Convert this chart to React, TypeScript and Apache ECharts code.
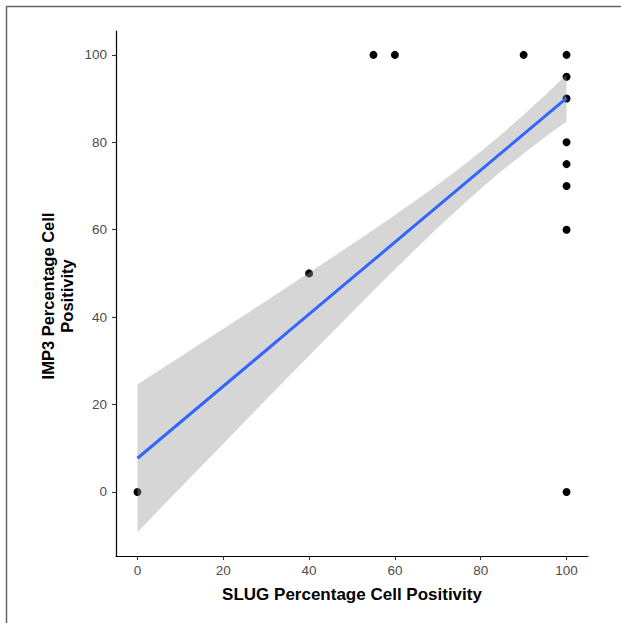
import React, { useEffect, useRef } from "react";
import * as echarts from "echarts";

const pointX = [0, 40, 55, 60, 90, 100, 100, 100, 100, 100, 100, 100, 100];
const pointY = [0, 50, 100, 100, 100, 100, 95, 90, 80, 75, 70, 60, 0];

const bandX = [0, 5, 10, 15, 20, 25, 30, 35, 40, 45, 50, 55, 60, 65, 70, 75, 80, 85, 90, 95, 100];
const bandFit = [7.7, 11.82, 15.94, 20.06, 24.18, 28.3, 32.42, 36.54, 40.66, 44.78, 48.9, 53.02, 57.14, 61.26, 65.38, 69.5, 73.62, 77.74, 81.86, 85.98, 90.1];
const bandLo = [-9.2, -4.13, 0.94, 6.0, 11.05, 16.1, 21.13, 26.16, 31.17, 36.16, 41.12, 46.05, 50.92, 55.73, 60.43, 64.99, 69.36, 73.52, 77.45, 81.19, 84.76];
const bandHi = [24.6, 27.77, 30.94, 34.12, 37.31, 40.5, 43.71, 46.92, 50.15, 53.4, 56.68, 59.99, 63.36, 66.79, 70.33, 74.01, 77.88, 81.96, 86.27, 90.77, 95.44];

const tickValues = [0, 20, 40, 60, 80, 100];

const FONT = "'Liberation Sans', Arial, Helvetica, sans-serif";

export default function App() {
  const ref = useRef<HTMLDivElement>(null);
  useEffect(() => {
    if (!ref.current) return;
    const chart = echarts.init(ref.current, null, { renderer: "svg" });
    const axisCommon = {
      type: "value" as const,
      axisLine: { show: true, onZero: false, lineStyle: { color: "#000", width: 1.2 } },
      axisTick: {
        show: true,
        length: 4,
        customValues: tickValues,
        lineStyle: { color: "#333", width: 1.1 },
      },
      axisLabel: {
        customValues: tickValues,
        color: "#4d4d4d",
        fontSize: 13.5,
        fontFamily: FONT,
      },
      splitLine: { show: false },
    };
    chart.setOption({
      animation: false,
      backgroundColor: "#fff",
      grid: { left: 116, right: 33, top: 31, bottom: 67 },
      xAxis: {
        ...axisCommon,
        min: -5,
        max: 105,
        axisLabel: { ...axisCommon.axisLabel, margin: 7 },
        name: "SLUG Percentage Cell Positivity",
        nameLocation: "middle",
        nameGap: 30,
        nameTextStyle: {
          color: "#000",
          fontSize: 17,
          fontWeight: "bold",
          fontFamily: FONT,
        },
      },
      yAxis: {
        ...axisCommon,
        min: -14.66,
        max: 105.46,
        axisLabel: { ...axisCommon.axisLabel, margin: 9 },
      },
      graphic: [
        {
          type: "rect",
          shape: { x: 6.5, y: 6.5, width: 800, height: 800 },
          style: { fill: "none", stroke: "#666", lineWidth: 1.5 },
          silent: true,
        },
        {
          type: "text",
          x: 57,
          y: 296,
          rotation: Math.PI / 2,
          style: {
            text: "IMP3 Percentage Cell\nPositivity",
            fill: "#000",
            font: `bold 16.5px ${FONT}`,
            textAlign: "center",
            textVerticalAlign: "middle",
            lineHeight: 19,
          },
        },
      ],
      series: [
        {
          type: "scatter",
          z: 1,
          data: pointX.map((x, i) => [x, pointY[i]]),
          symbolSize: 8,
          itemStyle: { color: "#000", opacity: 1 },
        },
        {
          type: "custom",
          z: 2,
          data: bandX.map((x, i) => [x, bandLo[i], bandHi[i]]),
          encode: { x: 0, y: [1, 2] },
          renderItem: (params: any, api: any) => {
            if (params.dataIndex !== 0) return null;
            const pts: number[][] = [];
            for (let i = 0; i < bandX.length; i++) pts.push(api.coord([bandX[i], bandHi[i]]));
            for (let i = bandX.length - 1; i >= 0; i--) pts.push(api.coord([bandX[i], bandLo[i]]));
            return {
              type: "polygon",
              shape: { points: pts },
              style: { fill: "rgba(153,153,153,0.4)" },
            };
          },
        },
        {
          type: "line",
          z: 3,
          data: bandX.map((x, i) => [x, bandFit[i]]),
          showSymbol: false,
          symbol: "none",
          lineStyle: { color: "#3366FF", width: 3 },
        },
      ],
    });
    return () => chart.dispose();
  }, []);
  return (
    <div
      ref={ref}
      style={{ position: "absolute", left: 0, top: 0, width: 621, height: 623 }}
    />
  );
}
